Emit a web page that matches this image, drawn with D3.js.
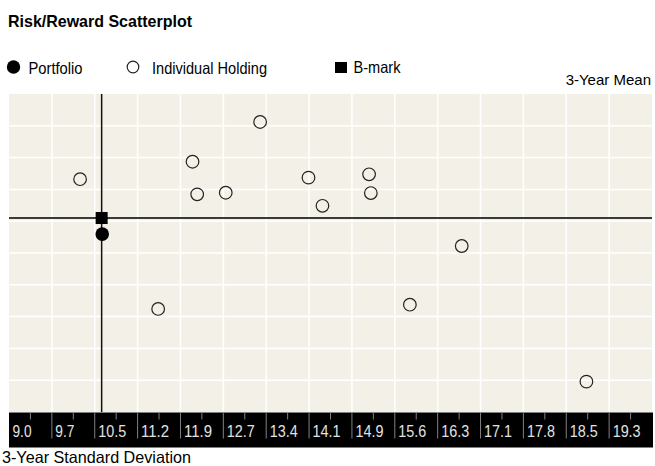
<!DOCTYPE html>
<html>
<head>
<meta charset="utf-8">
<script src="https://cdn.jsdelivr.net/npm/d3@7"></script>
<style>
  body { margin: 0; background: #fff; }
  text { font-family: "Liberation Sans", Arial, sans-serif; }
</style>
</head>
<body>
<script>
// Tick labels along the risk axis
const xTickLabels = ["9.0","9.7","10.5","11.2","11.9","12.7","13.4","14.1","14.9","15.6","16.3","17.1","17.8","18.5","19.3"]

// Individual holdings: 3-year std deviation / 3-year mean
const holdingRisk = [10.22, 12.15, 12.23, 12.72, 13.31, 14.14, 14.38, 15.18, 15.21, 16.77, 15.88, 11.56, 18.91]
const holdingMean = [1.464, 1.574, 1.369, 1.379, 1.824, 1.474, 1.297, 1.495, 1.377, 1.044, 0.675, 0.648, 0.191]

const portfolio = [10.60, 1.119]
const benchmark = [10.59, 1.220]

const W = 655, H = 466
const pLeft = 9, pRight = 652, pTop = 94, pBottom = 412
const step = (19.3 - 9.0) / 14

const svg = d3.select("body").append("svg")
        .attr("width", W)
        .attr("height", H)

// scales
let x = d3.scaleLinear().domain([9.0, 9.0 + 15 * step]).range([pLeft, pRight])
let y = d3.scaleLinear().domain([0, 2.0]).range([pBottom, pTop])

// helper for condensed looking labels
function label(g, tx, ty, str, w, opts) {
    let t = g.append("text")
        .attr("x", tx).attr("y", ty)
        .attr("textLength", w)
        .attr("lengthAdjust", "spacingAndGlyphs")
        .style("font-size", "16.5px")
        .text(str)
    if (opts && opts.bold) t.style("font-weight", "bold")
    return t
}

// title
label(svg, 8, 27, "Risk/Reward Scatterplot", 184, {bold: true})

// legend
let lg = svg.append("g")
lg.append("circle").attr("cx", 13.5).attr("cy", 67).attr("r", 6.7).attr("fill", "#000")
label(lg, 28.5, 73.5, "Portfolio", 54)
lg.append("circle").attr("cx", 133).attr("cy", 67).attr("r", 5.8)
        .attr("fill", "none").attr("stroke", "#222").attr("stroke-width", 1.2)
label(lg, 152, 73.5, "Individual Holding", 115)
lg.append("rect").attr("x", 335).attr("y", 62).attr("width", 12).attr("height", 11).attr("fill", "#000")
label(lg, 353.5, 73, "B-mark", 47)

svg.append("text")
        .attr("x", 651).attr("y", 85)
        .attr("text-anchor", "end")
        .style("font-size", "15px")
        .text("3-Year Mean")

// plot background
svg.append("rect")
        .attr("x", pLeft).attr("y", pTop)
        .attr("width", pRight - pLeft).attr("height", pBottom - pTop)
        .attr("fill", "#f3f1e7")

// grid
let xGrid = d3.range(1, 15).map(i => 9.0 + i * step)
let yGrid = d3.range(0.2, 2.0, 0.2)

svg.append("g").selectAll("line")
        .data(xGrid)
        .join("line")
        .attr("x1", d => x(d)).attr("x2", d => x(d))
        .attr("y1", pTop).attr("y2", pBottom)
        .attr("stroke", "#fff").attr("stroke-width", 1.5)

svg.append("g").selectAll("line")
        .data(yGrid)
        .join("line")
        .attr("x1", pLeft).attr("x2", pRight)
        .attr("y1", d => y(d)).attr("y2", d => y(d))
        .attr("stroke", "#fff").attr("stroke-width", 1.5)

// benchmark cross-hairs
svg.append("line")
        .attr("x1", pLeft).attr("x2", pRight)
        .attr("y1", y(benchmark[1])).attr("y2", y(benchmark[1]))
        .attr("stroke", "#3a3a3a").attr("stroke-width", 2)
svg.append("line")
        .attr("x1", x(benchmark[0])).attr("x2", x(benchmark[0]))
        .attr("y1", pTop).attr("y2", pBottom)
        .attr("stroke", "#111").attr("stroke-width", 1.5)

// holdings
svg.append("g").selectAll("circle")
        .data(holdingRisk.map((r, i) => [r, holdingMean[i]]))
        .join("circle")
        .attr("cx", d => x(d[0]))
        .attr("cy", d => y(d[1]))
        .attr("r", 6.3)
        .attr("fill", "none")
        .attr("stroke", "#222")
        .attr("stroke-width", 1.2)

// benchmark + portfolio
svg.append("rect")
        .attr("x", x(benchmark[0]) - 6).attr("y", y(benchmark[1]) - 6)
        .attr("width", 12).attr("height", 12)
        .attr("fill", "#000")
svg.append("circle")
        .attr("cx", x(portfolio[0])).attr("cy", y(portfolio[1]))
        .attr("r", 6.8).attr("fill", "#000")

// x axis band
const bandTop = pBottom + 0.5, bandH = 35
svg.append("rect")
        .attr("x", pLeft).attr("y", bandTop)
        .attr("width", pRight - pLeft + 1).attr("height", bandH)
        .attr("fill", "#000")

let ax = svg.append("g")
ax.selectAll("line.sep")
        .data(xGrid)
        .join("line")
        .attr("class", "sep")
        .attr("x1", d => x(d)).attr("x2", d => x(d))
        .attr("y1", bandTop).attr("y2", bandTop + 26)
        .attr("stroke", "#808080").attr("stroke-width", 1)
ax.selectAll("line.mid")
        .data(d3.range(15).map(i => 9.0 + (i + 0.5) * step))
        .join("line")
        .attr("class", "mid")
        .attr("x1", d => x(d)).attr("x2", d => x(d))
        .attr("y1", bandTop).attr("y2", bandTop + 7)
        .attr("stroke", "#808080").attr("stroke-width", 1)
ax.selectAll("text")
        .data(xTickLabels)
        .join("text")
        .attr("x", (d, i) => x(9.0 + i * step) + 3.5)
        .attr("y", 436.5)
        .attr("textLength", d => d.length == 3 ? 19 : 28)
        .attr("lengthAdjust", "spacingAndGlyphs")
        .attr("fill", "#e2e2e2")
        .style("font-size", "17px")
        .text(d => d)

label(svg, 2, 463, "3-Year Standard Deviation", 189)
</script>
</body>
</html>
